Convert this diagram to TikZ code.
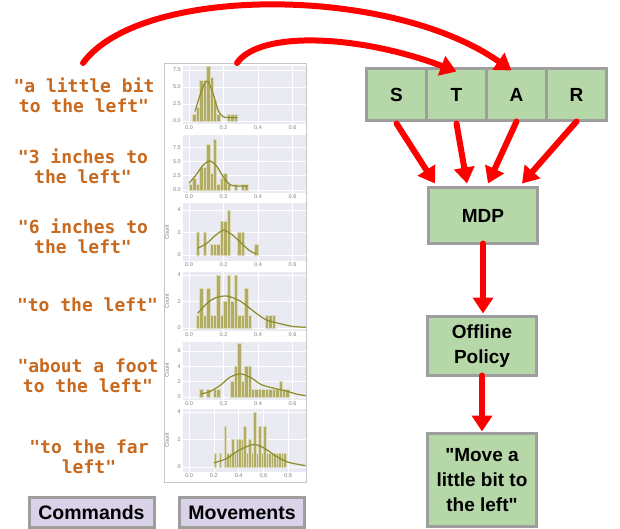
\documentclass[tikz,border=0pt]{standalone}
\usepackage{fontspec}
\setmainfont{Liberation Sans}
\newfontfamily\cmdfont{DejaVu Sans Mono}
\usetikzlibrary{arrows.meta,positioning}

\definecolor{boxgreen}{RGB}{182,215,168}
\definecolor{boxgray}{RGB}{158,158,158}
\definecolor{tagpurple}{RGB}{217,210,233}
\definecolor{cmdorange}{RGB}{200,105,30}
\definecolor{panelbg}{RGB}{234,234,242}
\definecolor{barolive}{RGB}{170,166,84}
\definecolor{kdeolive}{RGB}{140,140,40}

\tikzset{
  box/.style={draw=boxgray, line width=3pt, fill=boxgreen, align=center, outer sep=0pt,
    font=\bfseries\fontsize{19}{25}\selectfont},
  cell/.style={box, minimum width=60, minimum height=52},
  tag/.style={box, fill=tagpurple, minimum width=125, minimum height=30,
    font=\bfseries\fontsize{19.5}{22}\selectfont},
  cmd/.style={text=cmdorange, align=center, inner sep=0pt, anchor=north,
    font=\cmdfont\bfseries\fontsize{18}{19.5}\selectfont},
  redarrow/.style={draw=red, line width=6pt, line cap=round,
    -{Triangle[length=16pt,width=20pt]}},
  gridline/.style={draw=white, line width=0.6pt},
  ticklab/.style={text=gray, inner sep=0.5pt, font=\fontsize{5.5}{6}\selectfont},
  histbar/.style={fill=barolive, fill opacity=0.9, draw=white!60!barolive, line width=0.25pt},
  kde/.style={draw=kdeolive, line width=1.2pt},
  panelframe/.style={draw=gray!45, line width=0.8pt}
}

% top, bottom, zero line, px per count, px per unit, y ticks, x ticks, bars, curve
\newcommand{\histplot}[9]{%
  \begin{scope}[shift={(189,#3)}, x=#5pt, y=#4pt]
    \pgfmathsetmacro{\ytop}{(#3-#1)/#4}
    \pgfmathsetmacro{\ybot}{(#3-#2)/#4}
    \pgfmathsetmacro{\xlft}{-6/#5}
    \pgfmathsetmacro{\xrgt}{117/#5}
    \fill[panelbg] (\xlft,\ybot) rectangle (\xrgt,\ytop);
    \foreach \tx/\lab in {#7}{
      \draw[gridline] (\tx,\ybot) -- (\tx,\ytop);
      \node[ticklab, anchor=north, yshift=-1pt] at (\tx,\ybot) {\lab};
    }
    \foreach \yv/\lab in {#6}{
      \draw[gridline] (\xlft,\yv) -- (\xrgt,\yv);
      \node[ticklab, anchor=east, xshift=-1.5pt] at (\xlft,\yv) {\lab};
    }
    \foreach \bx/\bh in {#8}
      \filldraw[histbar] (\bx-0.01,0) rectangle (\bx+0.01,\bh);
    \draw[kde] plot[smooth] coordinates {#9};
  \end{scope}}

\begin{document}
\begin{tikzpicture}[x=1pt, y=-1pt]
  \useasboundingbox[fill=white] (0,0) rectangle (620,529);

  % commands
  \node[cmd] (cmd1) at (84,78) {"a little bit\\to the left"};
  \node[cmd] (cmd2) at (83,149) {"3 inches to\\the left"};
  \node[cmd] (cmd3) at (83,219) {"6 inches to\\the left"};
  \node[cmd] (cmd4) at (87.5,298) {"to the left"};
  \node[cmd] (cmd5) at (88,359) {"about a foot\\to the left"};
  \node[cmd] (cmd6) at (89,440) {"to the far\\left"};

  % movements
  \histplot{66}{124}{121}{6.8}{172.5}{0/0.0,2.5/2.5,5/5.0,7.5/7.5}{0/0.0,0.2/0.2,0.4/0.4,0.6/0.6}
    {0.03/1,0.05/2,0.07/6,0.09/6,0.11/8,0.13/6.5,0.15/3,0.17/1,0.23/1,0.25/1,0.27/1}
    {(0.035,1.4) (0.06,3.5) (0.09,5.5) (0.11,5.8) (0.14,4) (0.17,1.5) (0.2,0.6) (0.24,0.5) (0.28,0.5)}
  \histplot{135}{193}{190}{5.7}{172.5}{0/0.0,2.5/2.5,5/5.0,7.5/7.5}{0/0.0,0.2/0.2,0.4/0.4,0.6/0.6}
    {0.01/1,0.03/2,0.05/1,0.07/4,0.09/4,0.11/8,0.13/3,0.15/9,0.17/1,0.19/2,0.21/3,0.23/1,0.27/1,0.31/1,0.33/1}
    {(0.0,1.2) (0.04,2.6) (0.08,4.3) (0.12,5.1) (0.16,4.2) (0.2,2.2) (0.24,0.9) (0.28,0.7) (0.34,0.7)}
  \histplot{203}{261}{255}{11.25}{172.5}{0/0,2/2,4/4}{0/0.0,0.2/0.2,0.4/0.4,0.6/0.6}
    {0.05/2,0.09/2,0.13/1,0.15/1,0.17/1,0.19/3,0.21/3,0.23/4,0.29/2,0.31/2,0.39/1}
    {(0.05,0.6) (0.1,1.0) (0.15,1.7) (0.2,2.2) (0.25,1.8) (0.3,1.1) (0.35,0.4) (0.39,0.1)}
  \histplot{272}{331}{328}{13.3}{172.5}{0/0,2/2,4/4}{0/0.0,0.2/0.2,0.4/0.4,0.6/0.6}
    {0.05/1,0.07/3,0.09/1,0.11/3,0.13/1,0.15/1,0.17/4,0.19/1,0.21/2,0.23/4,0.25/2,0.27/4,0.29/1,0.31/1,0.33/3,0.35/1,0.45/1,0.47/1,0.49/1}
    {(0.05,1.1) (0.1,1.8) (0.15,2.25) (0.22,2.4) (0.3,2.0) (0.38,1.2) (0.45,0.6) (0.52,0.35) (0.6,0.12) (0.68,0.05)}
  \histplot{342}{400}{397}{7.7}{172.5}{0/0,2/2,4/4,6/6}{0/0.0,0.2/0.2,0.4/0.4,0.6/0.6}
    {0.07/1,0.11/1,0.15/1,0.17/1,0.25/2,0.27/4,0.29/7,0.31/2,0.33/4,0.35/4,0.37/1,0.39/1,0.41/1,0.43/1,0.45/1,0.47/1,0.49/1,0.51/1,0.53/2,0.55/1,0.57/1}
    {(0.07,0.4) (0.12,0.7) (0.18,1.5) (0.24,2.6) (0.3,3.0) (0.36,2.5) (0.42,1.6) (0.5,1.1) (0.56,0.8) (0.62,0.4) (0.68,0.15)}
  \histplot{409}{472}{467}{13.75}{124}{0/0,2/2,4/4}{0/0.0,0.2/0.2,0.4/0.4,0.6/0.6,0.8/0.8}
    {0.21/1,0.25/1,0.29/3,0.31/1,0.33/1,0.35/2,0.37/1,0.39/2,0.41/2,0.43/2,0.45/3,0.47/1,0.49/2,0.51/1,0.53/4,0.55/1,0.57/3,0.59/1,0.61/3,0.63/1,0.65/1,0.67/1,0.69/1,0.71/1,0.73/1,0.75/1,0.77/1}
    {(0.2,0.3) (0.3,0.6) (0.4,1.2) (0.5,1.6) (0.55,1.6) (0.62,1.3) (0.7,0.8) (0.8,0.35) (0.94,0.1)}
  \foreach \cy in {232,301,370,440}
    \node[ticklab, rotate=90] at (167,\cy) {Count};
  \draw[panelframe] (164,63) rectangle (306,482);

  % labels under the columns
  \node[tag] (commands) at (91.5,512.5) {Commands};
  \node[tag] (movements) at (242,512.5) {Movements};

  % STAR and the pipeline
  \node[cell] (S) at (396.5,94.5) {S};
  \node[cell, right=0pt of S] (T) {T};
  \node[cell, right=0pt of T] (A) {A};
  \node[cell, right=0pt of A] (R) {R};
  \node[box, minimum width=109, minimum height=56] (MDP) at (483,215.5) {MDP};
  \node[box, minimum width=109, minimum height=59] (offline) at (482,346) {Offline\\Policy};
  \node[box, minimum width=109, minimum height=93] (move) at (482,480)
    {\textquotedbl Move a\\little bit to\\the left\textquotedbl};

  \coordinate (cmdstart) at (83,63);
  \coordinate (movstart) at (237,63);
  \draw[redarrow] (cmdstart) .. controls (140,-15) and (390,-15) .. ([xshift=-5pt,yshift=-2pt]A.north);
  \draw[redarrow] (movstart) .. controls (260,30) and (360,35) .. ([yshift=-3pt]T.north);

  \draw[redarrow] ([yshift=-3pt]S.south) -- ([xshift=-48pt,yshift=4pt]MDP.north);
  \draw[redarrow] ([yshift=-3pt]T.south) -- ([xshift=-16pt,yshift=4pt]MDP.north);
  \draw[redarrow] ([yshift=-1pt]A.south) -- ([xshift=5pt,yshift=4pt]MDP.north);
  \draw[redarrow] ([yshift=-1pt]R.south) -- ([xshift=39pt,yshift=4pt]MDP.north);
  \draw[redarrow] (MDP.south) -- ([yshift=3pt]MDP.south |- offline.north);
  \draw[redarrow] (offline.south) -- ([yshift=2pt]offline.south |- move.north);
\end{tikzpicture}
\end{document}
